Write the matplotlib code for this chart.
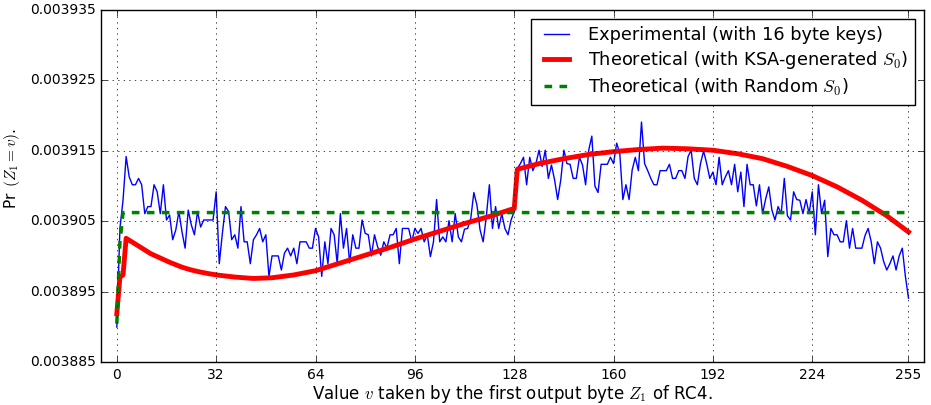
import numpy as np
import matplotlib
matplotlib.use('Agg')
import matplotlib.pyplot as plt

plt.style.use('classic')

# values are stored as offsets from 0.0039 in units of 1e-7
base = 0.0039
unit = 1e-7

# experimental Pr(Z1 = v), v = 0..255
exp_offset = [
    -100, 40, 80, 142, 113, 102, 102, 111, 102, 61, 71, 71, 102, 92, 61, 102,
    52, 59, 24, 38, 64, 35, 12, 66, 45, 31, 64, 42, 52, 52, 52, 52,
    92, -10, 33, 71, 64, 24, 31, 12, 71, 21, 21, -10, 24, 31, 40, 21,
    31, -28, 1, 1, 1, -19, 5, 12, 1, 12, -10, 21, 21, 21, 12, 12,
    40, 28, -28, 21, -10, 40, 31, -10, 61, 12, 40, -9, 31, 12, 12, 52,
    33, 31, 1, 31, 14, 2, 21, 12, 31, 31, 40, -10, 40, 40, 40, 21,
    40, 33, 40, 21, 31, 0, 21, 81, 21, 28, 21, 51, 21, 61, 28, 21,
    39, 40, 54, 91, 73, 38, 21, 56, 102, 40, 71, 40, 61, 40, 31, 52,
    64, 125, 132, 141, 102, 141, 122, 132, 151, 128, 151, 111, 130, 109, 81, 109,
    151, 132, 131, 111, 111, 141, 130, 102, 151, 171, 100, 91, 131, 131, 131, 141,
    132, 161, 147, 81, 102, 81, 123, 141, 122, 191, 132, 122, 111, 102, 102, 122,
    122, 122, 131, 111, 111, 122, 122, 111, 142, 151, 111, 102, 132, 150, 132, 111,
    120, 102, 141, 102, 113, 122, 102, 131, 92, 120, 71, 131, 102, 102, 72, 102,
    61, 82, 99, 66, 52, 71, 61, 111, 58, 52, 92, 81, 80, 61, 81, 61,
    92, 31, 102, 61, 80, 0, 40, 31, 31, 21, 21, 51, 12, 40, 12, 12,
    12, 30, 40, 21, -10, 21, 12, -7, -19, -10, 1, -19, 1, 12, -28, -59,
]

# theoretical curve with KSA-generated S0 (read at selected v)
ksa_v = [0, 1, 2, 3, 5, 7, 9, 11, 13, 15, 17, 19, 21, 24, 27, 30, 33, 38,
         44, 50, 57, 64, 72, 80, 88, 96, 104, 112, 120, 127, 128, 129, 136,
         144, 152, 160, 168, 176, 184, 192, 200, 208, 216, 224, 232, 240,
         248, 255]
ksa_offset = [-81, -29, -26, 26, 20.5, 15, 9.5, 4, 0, -4, -8, -11.5, -15, -19,
              -22, -24.5, -26.5, -29, -31, -30, -26, -20, -9, 2, 13, 25, 36,
              47, 57, 67, 68, 124, 132, 139, 145, 149, 152, 154, 153, 151,
              146, 139, 128, 115, 99, 80, 58, 35]

# theoretical curve with random S0
rnd_v = [0, 1, 2, 255]
rnd_offset = [-95, 20, 62.5, 62.5]

v = np.arange(256)
exp_pr = base + unit * np.array(exp_offset)
ksa_pr = base + unit * np.array(ksa_offset)
rnd_pr = base + unit * np.array(rnd_offset)

yticks = [0.003885, 0.003895, 0.003905, 0.003915, 0.003925, 0.003935]
xticks = [0, 32, 64, 96, 128, 160, 192, 224, 255]

fig = plt.figure(figsize=(9.31, 4.05), dpi=100, facecolor='white')
ax = fig.add_axes([0.1088, 0.1054, 0.8837, 0.8699])

ax.plot(v, exp_pr, color='blue', lw=1, label='Experimental (with 16 byte keys)')
ax.plot(ksa_v, ksa_pr, color='red', lw=3.5,
        label=r'Theoretical (with KSA-generated $S_0$)')
ax.plot(rnd_v, rnd_pr, color='green', ls='--', dashes=(5.5, 5.3), lw=2.5,
        label=r'Theoretical (with Random $S_0$)')

ax.set_xlim(-5, 260)
ax.set_ylim(0.003885, 0.003935)
ax.set_xticks(xticks)
ax.set_yticks(yticks)
ax.set_yticklabels(['%.6f' % t for t in yticks])
ax.tick_params(labelsize=10)
ax.grid(True)

ax.set_xlabel(r'Value $v$ taken by the first output byte $Z_1$ of RC4.', fontsize=12, labelpad=1)
ax.set_ylabel(r'Pr $\,(Z_1 = v)$.', fontsize=11)
ax.yaxis.set_label_coords(-0.0964, 0.55)

leg = ax.legend(loc='upper right', fontsize=12.8, handlelength=2, labelspacing=0.3)
leg.get_frame().set_edgecolor('black')

fig.savefig('out.png', dpi=100, facecolor='white')
